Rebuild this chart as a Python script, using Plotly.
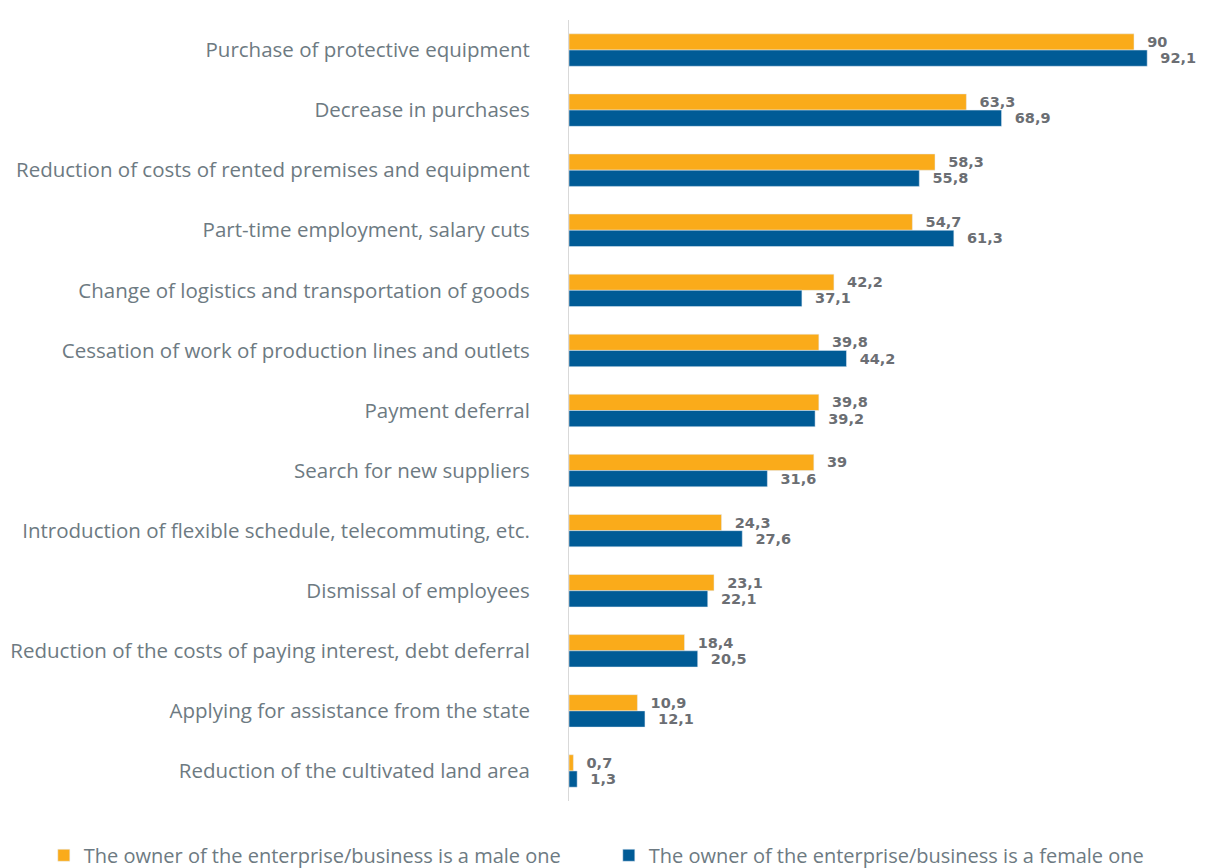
"""
Measures taken by enterprises, by gender of owner - horizontal grouped bar chart
"""
import plotly.graph_objects as go

categories = [
    'Purchase of protective equipment',
    'Decrease in purchases',
    'Reduction of costs of rented premises and equipment',
    'Part-time employment, salary cuts',
    'Change of logistics and transportation of goods',
    'Cessation of work of production lines and outlets',
    'Payment deferral',
    'Search for new suppliers',
    'Introduction of flexible schedule, telecommuting, etc.',
    'Dismissal of employees',
    'Reduction of the costs of paying interest, debt deferral',
    'Applying for assistance from the state',
    'Reduction of the cultivated land area',
]
male_values = [90, 63.3, 58.3, 54.7, 42.2, 39.8, 39.8, 39, 24.3, 23.1, 18.4, 10.9, 0.7]
female_values = [92.1, 68.9, 55.8, 61.3, 37.1, 44.2, 39.2, 31.6, 27.6, 22.1, 20.5, 12.1, 1.3]

male_name = 'The owner of the enterprise/business is a male one'
female_name = 'The owner of the enterprise/business is a female one'

MALE_COLOR = '#FAAB1A'
FEMALE_COLOR = '#005B96'
TEXT_COLOR = '#6D7A82'
VALUE_COLOR = '#6B6E73'


def fmt(v):
    # decimal comma, no trailing ".0", small gap from bar end
    s = f"{v:g}".replace('.', ',')
    return '\u2002\u2009' + s


value_font = dict(family='DejaVu Sans', size=14.5, color=VALUE_COLOR, weight='bold')

fig = go.Figure()

fig.add_trace(go.Bar(
    y=categories,
    x=male_values,
    name=male_name,
    orientation='h',
    marker_color=MALE_COLOR,
    text=[fmt(v) for v in male_values],
    textposition='outside',
    textfont=value_font,
    cliponaxis=False,
))
fig.add_trace(go.Bar(
    y=categories,
    x=female_values,
    name=female_name,
    orientation='h',
    marker_color=FEMALE_COLOR,
    text=[fmt(v) for v in female_values],
    textposition='outside',
    textfont=value_font,
    cliponaxis=False,
))

fig.update_layout(
    width=1215,
    height=868,
    barmode='group',
    bargap=0.46,
    bargroupgap=0,
    paper_bgcolor='white',
    plot_bgcolor='white',
    margin=dict(t=12, b=75, l=561, r=8, autoexpand=False),
    font=dict(family='Open Sans', color=TEXT_COLOR),
    xaxis=dict(
        range=[0, 102.9],
        showticklabels=False,
        showgrid=False,
        zeroline=False,
        showline=False,
        automargin=False,
    ),
    yaxis=dict(
        autorange='reversed',
        automargin=False,
        showgrid=False,
        showline=True,
        linecolor='#D9D9D9',
        linewidth=1,
        ticks='',
        ticklabelstandoff=34,
        tickfont=dict(family='Open Sans', size=20.5, color=TEXT_COLOR),
    ),
    showlegend=True,
    legend=dict(
        orientation='h',
        x=-0.813,
        xanchor='left',
        y=-0.0445,
        yanchor='top',
        font=dict(family='Open Sans', size=20, color=TEXT_COLOR),
        itemwidth=30,
        entrywidth=520,
        traceorder='normal',
    ),
)

fig.write_html("out.html")
